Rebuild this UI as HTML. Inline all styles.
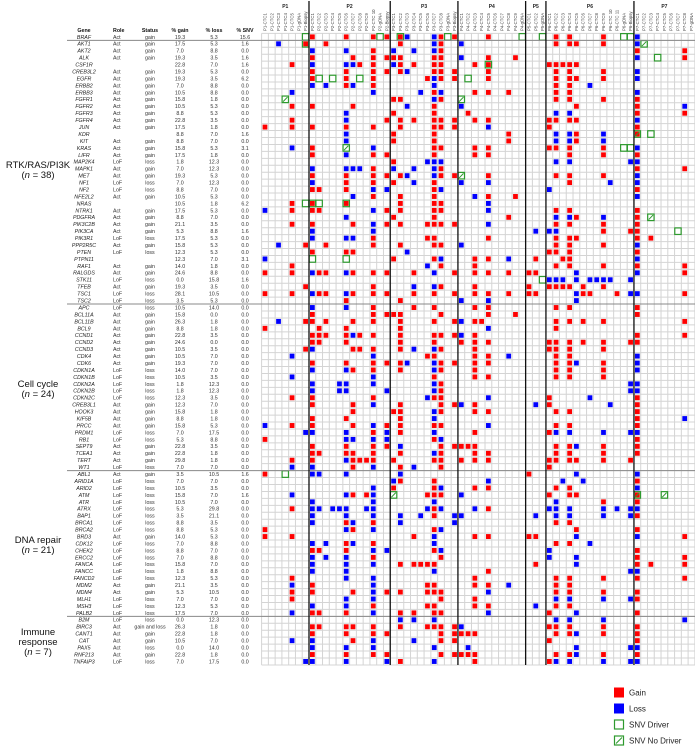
<!DOCTYPE html>
<html><head><meta charset="utf-8">
<style>
html,body{margin:0;padding:0;background:#fff;}
body{width:695px;height:748px;overflow:hidden;font-family:"Liberation Sans",Arial,sans-serif;}
svg{display:block;}
</style></head>
<body>
<svg id="chart" width="695" height="748" viewBox="0 0 695 748" xmlns="http://www.w3.org/2000/svg" font-family="Liberation Sans, Arial, sans-serif"></svg>
<script>
const patients = ["P1","P2","P3","P4","P5","P6","P7"];
const patientSamples = [
 ["CTC1","CTC2","CTC3","CTC4","CTC5","gDNA","Biopsy"],
 ["CTC1","CTC2","CTC3","CTC4","CTC5","CTC6","CTC7","CTC8","CTC9","CTC 10","gDNA","Biopsy"],
 ["CTC1","CTC2","CTC3","CTC4","CTC5","CTC6","CTC7","CTC8","gDNA","Biopsy"],
 ["CTC1","CTC2","CTC3","CTC4","CTC5","CTC6","CTC7","CTC8","CTC9","gDNA"],
 ["CTC1","CTC2","gDNA"],
 ["CTC1","CTC2","CTC3","CTC4","CTC5","CTC6","CTC7","CTC8","CTC9","CTC 10","CTC 11","gDNA","Biopsy"],
 ["CTC1","CTC2","CTC3","CTC4","CTC5","CTC6","CTC7","CTC8","gDNA"]
];
const genes = ["BRAF","AKT1","AKT2","ALK","CSF1R","CREB3L2","EGFR","ERBB2","ERBB3","FGFR1","FGFR2","FGFR3","FGFR4","JUN","KDR","KIT","KRAS","LIFR","MAP2K4","MAPK1","MET","NF1","NF2","NFE2L2","NRAS","NTRK1","PDGFRA","PIK3C2B","PIK3CA","PIK3R1","PPP2R5C","PTEN","PTPN11","RAF1","RALGDS","STK11","TFEB","TSC1","TSC2",
"APC","BCL11A","BCL11B","BCL9","CCND1","CCND2","CCND3","CDK4","CDK6","CDKN1A","CDKN1B","CDKN2A","CDKN2B","CDKN2C","CREB3L1","HOOK3","KIF5B","PRCC","PRDM1","RB1","SEPT9","TCEA1","TERT","WT1",
"ABL1","ARID1A","ARID2","ATM","ATR","ATRX","BAP1","BRCA1","BRCA2","BRD3","CDK12","CHEK2","ERCC2","FANCA","FANCC","FANCD2","MDM2","MDM4","MLH1","MSH3","PALB2",
"B2M","BIRC3","CANT1","CAT","PAX5","RNF213","TNFAIP3"];
const roles = ["Act","Act","Act","Act","","Act","Act","Act","Act","Act","Act","Act","Act","Act","","Act","Act","Act","LoF","Act","Act","LoF","LoF","Act","","Act","Act","Act","Act","LoF","Act","LoF","","Act","Act","LoF","Act","LoF","LoF",
"LoF","Act","Act","Act","Act","Act","Act","Act","Act","LoF","LoF","LoF","LoF","LoF","Act","Act","Act","Act","LoF","LoF","Act","Act","Act","LoF",
"Act","LoF","LoF","LoF","LoF","LoF","LoF","LoF","LoF","Act","LoF","LoF","LoF","LoF","LoF","LoF","Act","Act","LoF","LoF","LoF",
"LoF","Act","Act","Act","Act","Act","LoF"];
const statuses = ["gain","gain","gain","gain","","gain","gain","gain","gain","gain","gain","gain","gain","gain","","gain","gain","gain","loss","gain","gain","loss","loss","gain","","gain","gain","gain","gain","loss","gain","loss","","gain","gain","loss","gain","loss","loss",
"loss","gain","gain","gain","gain","gain","gain","gain","gain","loss","loss","loss","loss","loss","gain","gain","gain","gain","loss","loss","gain","gain","gain","loss",
"gain","loss","loss","loss","loss","loss","loss","loss","loss","gain","loss","loss","loss","loss","loss","loss","gain","gain","loss","loss","loss",
"loss","gain and loss","gain","gain","loss","gain","loss"];
const pctGain = [19.3,17.5,7.0,19.3,22.8,19.3,19.3,7.0,10.5,15.8,10.5,8.8,22.8,17.5,8.8,8.8,15.8,17.5,1.8,7.0,19.3,7.0,8.8,10.5,10.5,17.5,8.8,21.1,5.3,17.5,15.8,12.3,12.3,14.0,24.6,0.0,19.3,28.1,3.5,
10.5,15.8,26.3,8.8,22.8,24.6,10.5,10.5,19.3,14.0,10.5,1.8,1.8,12.3,12.3,15.8,8.8,15.8,7.0,5.3,22.8,22.8,29.8,7.0,
3.5,7.0,10.5,15.8,10.5,5.3,3.5,8.8,8.8,14.0,7.0,8.8,7.0,15.8,1.8,12.3,21.1,5.3,7.0,12.3,17.5,
0.0,26.3,22.8,10.5,0.0,22.8,7.0];
const pctLoss = [5.3,5.3,8.8,3.5,7.0,5.3,3.5,8.8,8.8,1.8,5.3,5.3,3.5,1.8,7.0,7.0,5.3,1.8,12.3,12.3,5.3,12.3,7.0,5.3,1.8,5.3,7.0,3.5,8.8,5.3,5.3,5.3,7.0,1.8,8.8,15.8,3.5,10.5,5.3,
14.0,0.0,1.8,1.8,3.5,0.0,3.5,7.0,7.0,7.0,3.5,12.3,12.3,3.5,7.0,1.8,1.8,5.3,17.5,8.8,3.5,1.8,1.8,7.0,
10.5,7.0,3.5,7.0,7.0,29.8,21.1,3.5,5.3,5.3,8.8,7.0,8.8,7.0,8.8,5.3,3.5,10.5,7.0,5.3,7.0,
12.3,1.8,1.8,7.0,14.0,1.8,17.5];
const pctSNV = [15.6,1.6,0.0,1.6,1.6,0.0,6.2,0.0,0.0,0.0,0.0,0.0,0.0,0.0,1.6,0.0,3.1,0.0,0.0,0.0,0.0,0.0,0.0,0.0,6.2,0.0,0.0,0.0,1.6,0.0,0.0,0.0,3.1,0.0,0.0,1.6,0.0,0.0,0.0,
0.0,0.0,0.0,0.0,0.0,0.0,0.0,0.0,0.0,0.0,0.0,0.0,0.0,0.0,0.0,0.0,0.0,0.0,0.0,0.0,0.0,0.0,0.0,0.0,
1.6,0.0,0.0,1.6,0.0,0.0,0.0,0.0,0.0,0.0,0.0,0.0,0.0,0.0,0.0,0.0,0.0,0.0,0.0,0.0,0.0,
0.0,0.0,0.0,0.0,0.0,0.0,0.0];
const groupNames = [["RTK/RAS/PI3K"],["Cell cycle"],["DNA repair"],["Immune","response"]];
const groupCounts = [38,24,21,7];
const groupRows = [39,24,21,7];
// cell events: "col+code"  r=gain b=loss d=SNV driver n=SNV no driver R=gain+driver N=gain+no driver
const cellEvents = [
"6d 7r 12r 16r 17d 18r 20R 21b 25b 26r 27d 28r 33r 38d 41d 43r 45r 50r 53d 54d 55b",
"2b 6R 9r 20r 25b 26r 29b 43r 45r 46r 50r 55b 56n",
"7b 12b 16r 19b 22b 25b 26r 55r 62r",
"7r 13r 16r 18r 19r 20r 25r 26r 29b 33r 37r 55b 58d 62r",
"4r 7b 12b 13b 14r 16r 19b 20r 22r 25r 26r 31r 33R 42r 43r 44r 45r 46r",
"7r 12r 16r 18r 20r 21b 25r 26r 28r 33r 43r 45r 50r 55b",
"7r 8d 10d 12r 14d 16r 24r 25b 26r 28r 30d 33r 43r 45r 46r 50r 55b",
"7b 9b 12r 13b 16r 25b 43r 45r 48b",
"4b 16b 23b 25r 26b 31r 33r 36r 43r 45r 55b",
"3n 19r 20r 25b 26r 29n 43r 45r 50r 55r",
"4r 7r 13r 21b 25r 29b 46r 55r 62b",
"12b 19r 25r 30r 43b 45b 55r 62r",
"4r 12b 18r 20r 22r 25r 26r 28r 31r 33r 42r 43r 45r 46r 55b",
"0r 4r 7r 12r 16r 20r 25r 26r 28r 33b 42r 55r",
"12b 19r 25r 36r 43b 45b 46r 50b 55N 57d",
"12b 19r 25r 36r 43b 45b 46r 50b",
"4b 7r 12n 16b 25r 26r 31r 33r 42r 43r 45r 50r 53d 54d 55b",
"7r 12b 16r 18r 25r 31r 33r 45r 50r 55r",
"19r 24b 25b 26b 43b 45b 54b 55b",
"7b 12b 13b 14b 16r 19b 22b 25b 26r 55r 62r",
"7r 12r 16r 18r 20r 21b 25b 26r 28r 29n 33r 43r 45r 50r 55b",
"7b 12r 16r 19r 22b 25r 29b 33b 45r 51b 55b",
"7r 8r 12r 16b 18b 25r 26b 42b 55r",
"13b 16r 20r 25r 31b 33r 37r 55b",
"4r 6d 7R 8d 12R 20r 25r 26r 33b",
"0b 4r 7r 8r 16b 18r 20r 25r 26r 33b 43r 45r 55r",
"12b 19r 25r 36r 43b 45b 46r 50b 55r 57n",
"4r 7r 13r 16b 18r 20r 24r 25r 26r 28r 33b 43r 45r 50r 55r",
"7b 16b 40b 42b 43b 50r 54r 55r 61d",
"7b 12b 13b 16r 24r 25r 33r 43r 45r 46r 55r 57r",
"2b 6r 9r 16r 20r 25r 26r 29b 43r 45r 50r 55b",
"7r 12r 13r 21b 42r 43r 45r 55r",
"0b 7d 12d 19r 25r 26b 31r 33r 36b 40r 44r 45r 55b",
"4r 24b 26r 31r 43r 45r 50r 55r 62r",
"0r 4r 7b 8r 9r 12b 13r 16r 18r 22r 25b 28r 31r 33r 36r 39r 40r 46b 55b 62r",
"41d 42b 43b 44b 46b 48b 49b 50b 51b 54b",
"6r 16r 22b 25b 26r 31r 39r 42r 43r 44r 45r 47r 50r",
"0r 4r 7b 8r 9r 12b 13r 16r 18r 22r 25r 28r 31r 33r 36r 39r 40r 46b 47r 48r 52r 54b 55b 62r",
"12r 20r 29b 33b 46b",
"7b 12b 16r 22r 25r 31r 33r 43r 45r 55r",
"7r 16r 18r 19r 20r 26r 33r 37r 55r",
"2b 6r 7r 9r 13r 16r 20r 25r 28r 29b 31r 32r 43r 45r 47r 50r 62r",
"0r 8r 12r 20r 33b 43r",
"7r 8r 9r 12r 13b 14r 16r 20r 25r 26r 28r 29b 31r 55r 62r",
"7r 8r 12r 20r 25r 29r 31r 33r 42r 43r 45r 47r 50r 54r 55r",
"6r 7b 13r 14r 16r 20r 22b 25b 26r 31r 42r 43r 45r 50r",
"4b 16b 24r 25r 31r 33r 36b 43r 45r 55b",
"7r 12r 16r 18r 20r 21b 25b 26r 28r 31r 33r 43r 45r 46b 50r 55b",
"7b 12b 13r 16r 20r 25b 26r 31r 43r 45r 50r 55b",
"4b 16b 25r 31r 33r 43r 45r 50r",
"7b 11b 12b 16b 25b 26r 54b 55b",
"7b 11b 12b 18b 25b 26r 54b 55b",
"4r 7r 16r 24b 25r 26r 33b 42r 48b 55r",
"7r 13r 16b 20r 26r 28r 29b 31r 40b 42r 51b 55r",
"13r 19r 20r 25b 26r 31r 33r 43r 45r 55r",
"7r 12r 20r 25b 55r 62b",
"0b 4r 7r 13r 16b 18r 20r 25r 26r 33b 43r 45r 55r",
"6b 7b 12b 16r 18b 20r 25b 31r 42r 43b 45b 50b 54b 55b",
"0r 12b 13b 16b 18b 25r 26b 55r",
"7r 12r 16r 18r 20b 26r 28r 29r 30r 31r 43r 45r 46b 50r 55r",
"7r 8r 12r 13r 16r 20r 25b 26r 31r 33r 43r 45r 50r 55r",
"4r 7r 12b 13r 14r 15r 16r 19r 25r 26r 29r 31r 33r 42r 43r 45r 46r 50r 54r",
"4b 7b 13r 16b 20r 22b 26r 42r",
"0r 3d 7b 8b 12b 20b 39r 46b 55b",
"19b 20r 25r 33b 44b 47b 55r",
"16b 19r 25r 26b 31r 33r 43r 45r 55b",
"4b 12b 13r 15r 16b 19n 24r 25r 26r 29b 42r 45r 46r 55N 59n",
"7b 16b 25b 43b 50r 55r",
"4r 7b 8b 10b 11b 12b 15b 16b 24b 25r 26b 31b 33r 42b 43b 45b 50b 52b 54b 55b",
"7b 12b 16b 20b 23b 25r 28b 29b 40b 43b 45b 50b 54b 55r",
"7b 12r 13b 16r 20b 28b 43r 45r",
"0r 12b 13r 16b 25r 26b 46r 55r",
"0r 4r 22r 25b 31r 33r 39r 40r 46b 55b 62r",
"7b 9b 12r 13b 16r 25b 43r 45r 48b",
"7r 8r 12r 16b 18b 25r 26b 42b 55r",
"7b 9b 12b 16r 26r 42b 46b 55r 62r",
"7b 12b 16b 20r 22r 23r 24r 25r 40r 46b 55r 57r 62r",
"7b 12b 25b 33r 54b 55b",
"4r 12b 16b 31r 43r 45r 50r 55r 62r",
"4b 7r 16b 24r 25r 31r 33r 36b 43r 45r",
"4r 7r 13r 16b 18r 20r 24r 25r 26r 33b 43r 45r 50r 55r",
"4r 12b 16b 26r 31r 43b 45b 50b 54b 55r",
"7b 12b 16r 24r 25r 31r 33r 40b 43r 45r",
"4b 7r 8r 12r 16b 20r 22r 25r 26r 33b 42r 46b 55r",
"20b 22b 25b 43b 45b 50b 62b",
"7r 8r 12r 13r 16r 20r 24r 25r 26r 28r 29b 42r 43r 45r 50r 55r",
"7r 12r 16r 18r 26r 28r 29r 30r 31r 43r 45r 46b 50r 55r",
"4b 7b 13r 16b 22b 26r 28r 42r 55r",
"7b 12b 16b 25b 30b 46b 54b 55b",
"7r 12r 16r 18r 26r 28r 29r 30r 31r 43r 45r 46b 50r 55r",
"6b 7b 12b 18b 20r 25b 31r 42r 43b 45b 50b 54b 55b"
];
const legendLabels = ["Gain","Loss","SNV Driver","SNV No Driver"];
const legendCodes = ["r","b","d","n"];

const NS="http://www.w3.org/2000/svg";
const svg=document.getElementById('chart');
const X0=261.6, CW=6.77, Y0=33.4, RH=6.94;
const RED="#ff0000", BLUE="#0000ff", GREEN="#2e9a2e";
function colX(c){return X0+c*CW;}
function rowY(r){return Y0+r*RH;}
function mk(tag,attrs,parent){const e=document.createElementNS(NS,tag);for(const k in attrs)e.setAttribute(k,attrs[k]);(parent||svg).appendChild(e);return e;}
function txt(s,attrs,parent){const e=mk('text',attrs,parent);e.textContent=s;return e;}

const nCols=patientSamples.reduce((a,p)=>a+p.length,0);
const nRows=genes.length;
const gridG=mk('g',{});


for(let c=0;c<=nCols;c++){const l=mk('line',{x1:colX(c),x2:colX(c),y1:rowY(0),y2:rowY(nRows),stroke:"#d4d4d4","stroke-width":1},gridG);}
for(let r=0;r<=nRows;r++){const l=mk('line',{x1:X0,x2:695,y1:rowY(r),y2:rowY(r),stroke:"#d4d4d4","stroke-width":1},gridG);}

// cells
const cellG=mk('g',{});


function drawMark(code,x,y,w,h,parent){
  if(code==='r'||code==='R'||code==='N'){
    const s=mk('rect',{x:x+1,y:y+1,width:w-2,height:h-2,fill:RED},parent);
    
    
  }
  if(code==='b'){
    const s=mk('rect',{x:x+1,y:y+1,width:w-2,height:h-2,fill:BLUE},parent);
    
    
  }
  if(code==='d'||code==='R'){
    const s=mk('rect',{x:x+0.2,y:y+0.2,width:w-0.4,height:h-0.4,fill:"none",stroke:GREEN,"stroke-width":1.2},parent);
    
    
  }
  if(code==='n'||code==='N'){
    const s=mk('rect',{x:x+0.2,y:y+0.2,width:w-0.4,height:h-0.4,fill:"none",stroke:GREEN,"stroke-width":1.2},parent);
    
    
    mk('line',{x1:x+1.2,y1:y+h-1.2,x2:x+w-1.2,y2:y+1.2,stroke:GREEN,"stroke-width":1},parent);
  }
}
cellEvents.forEach((row,r)=>{
  row.split(/\s+/).filter(Boolean).forEach(tok=>{
    const c=parseInt(tok,10); const code=tok.replace(/[0-9]/g,'');
    drawMark(code,colX(c),rowY(r),CW,RH,cellG);
  });
});

// row separator lines (header + groups)
let acc=0;
const hl=mk('line',{x1:67,x2:695,y1:rowY(1),y2:rowY(1),stroke:"#888","stroke-width":1});


groupRows.forEach((n,i)=>{acc+=n; if(i<groupRows.length-1){
  const l=mk('line',{x1:67,x2:695,y1:rowY(acc),y2:rowY(acc),stroke:"#888","stroke-width":1});
  
  
}});

// patient separators & headers
let c0=0;
patients.forEach((p,i)=>{
  const n=patientSamples[i].length;
  const pt=txt(p,{x:colX(c0+n/2),y:8,"font-size":5,"font-weight":"bold","text-anchor":"middle",fill:"#222"});
  
  
  patientSamples[i].forEach((s,j)=>{
    const cx=colX(c0+j)+CW/2+1.5;
    const t=txt(p+"-"+s,{x:cx,y:31,"font-size":4.3,fill:"#444","text-anchor":"start",transform:`rotate(-90 ${cx} 31)`});
    
    
  });
  c0+=n;
  if(i<patients.length-1){
    const l=mk('line',{x1:colX(c0),x2:colX(c0),y1:1,y2:rowY(nRows),stroke:"#111","stroke-width":1.3});
    
    
  }
});

// table header
const hdrs=[["Gene",84,"middle"],["Role",113,"start"],["Status",150,"middle"],["% gain",180,"middle"],["% loss",214,"middle"],["% SNV",245,"middle"]];
hdrs.forEach(h=>{const t=txt(h[0],{x:h[1],y:32,"font-size":5.3,"font-weight":"bold","text-anchor":h[2],fill:"#111"});
  
  });

// table rows
genes.forEach((g,r)=>{
  const y=rowY(r)+RH/2+1.9;
  const a=txt(g,{x:84,y:y,"font-size":5.3,"font-style":"italic","text-anchor":"middle",fill:"#222"});
  
  
  if(roles[r]){const b=txt(roles[r],{x:113,y:y,"font-size":5.3,fill:"#333"});
    
    }
  if(statuses[r]){const s=txt(statuses[r],{x:150,y:y,"font-size":5.3,"text-anchor":"middle",fill:"#333"});
    
    }
  const d=txt(pctGain[r].toFixed(1),{x:180,y:y,"font-size":5.3,"text-anchor":"middle",fill:"#333"});
  
  
  const e=txt(pctLoss[r].toFixed(1),{x:214,y:y,"font-size":5.3,"text-anchor":"middle",fill:"#333"});
  
  
  const f=txt(pctSNV[r].toFixed(1),{x:245,y:y,"font-size":5.3,"text-anchor":"middle",fill:"#333"});
  
  
});

// group labels
let gs=0;
groupNames.forEach((lines,i)=>{
  const cy=rowY(gs+groupRows[i]/2)+1;
  const all=lines.length+1;
  const g=mk('text',{x:38,"font-size":9.5,"text-anchor":"middle",fill:"#111"});
  
  
  lines.forEach((ln,k)=>{const ts=mk('tspan',{x:38,y:cy-(all-1)*5+k*10+3.5},g);ts.textContent=ln;});
  const ts2=mk('tspan',{x:38,y:cy-(all-1)*5+lines.length*10+3.5},g);
  ts2.appendChild(document.createTextNode("("));
  const it=mk('tspan',{"font-style":"italic"},ts2);it.textContent="n";
  ts2.appendChild(document.createTextNode(" = "+groupCounts[i]+")"));
  gs+=groupRows[i];
});

// legend
legendLabels.forEach((lab,i)=>{
  const cy=692.5+i*16;
  const g=mk('g',{});
  
  
  const code=legendCodes[i];
  const x=614,y=cy-5,w=10,h=10;
  if(code==='r')mk('rect',{x:x,y:y,width:w,height:h,fill:RED},g);
  if(code==='b')mk('rect',{x:x,y:y,width:w,height:h,fill:BLUE},g);
  if(code==='d'||code==='n')mk('rect',{x:x+0.5,y:y+0.5,width:w-1,height:h-1,fill:"none",stroke:GREEN,"stroke-width":1.2},g);
  if(code==='n')mk('line',{x1:x+2,y1:y+h-2,x2:x+w-2,y2:y+2,stroke:GREEN,"stroke-width":1.1},g);
  txt(lab,{x:629,y:cy+3,"font-size":8,fill:"#222"},g);
});
</script>
</body></html>
